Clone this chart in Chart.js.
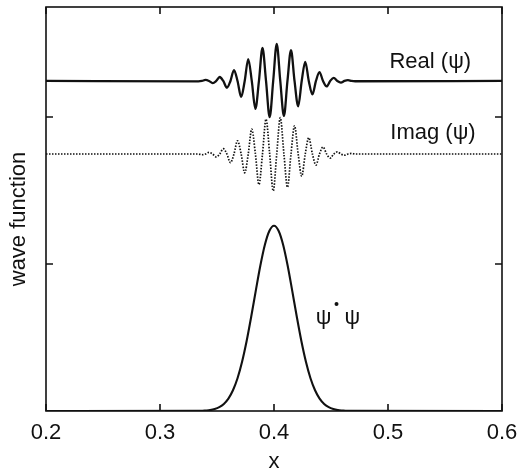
<!DOCTYPE html>
<html>
<head>
<meta charset="utf-8">
<script src="https://cdn.jsdelivr.net/npm/chart.js@4.4.1/dist/chart.umd.min.js"></script>
<style>
  html, body { margin: 0; padding: 0; background: #fff; }
  #wrap { width: 518px; height: 472px; }
</style>
</head>
<body>
<div id="wrap"><canvas id="wave-chart" width="518" height="472"></canvas></div>
<script>
/* ---- data ---- */
var xTicks = [0.2, 0.3, 0.4, 0.5, 0.6];
var yTicks = [1, 2];

// sample positions for Real / Imag (extrema and zero crossings)
var waveX = [0.2, 0.3337, 0.3368, 0.3399, 0.3430, 0.3462, 0.3493, 0.3524, 0.3555, 0.3587,
  0.3618, 0.3649, 0.3680, 0.3712, 0.3743, 0.3774, 0.3805, 0.3837, 0.3868, 0.3899, 0.3930,
  0.3962, 0.3993, 0.4024, 0.4055, 0.4087, 0.4118, 0.4149, 0.4180, 0.4212, 0.4243, 0.4274,
  0.4305, 0.4337, 0.4368, 0.4399, 0.4430, 0.4462, 0.4493, 0.4524, 0.4555, 0.4587, 0.4618,
  0.4649, 0.4680, 0.4712, 0.6];

var realY = [2.245, 2.242, 2.245, 2.252, 2.245, 2.230, 2.245, 2.272, 2.245, 2.199,
  2.245, 2.319, 2.245, 2.136, 2.245, 2.394, 2.245, 2.055, 2.245, 2.469, 2.245,
  1.999, 2.245, 2.497, 2.245, 2.007, 2.245, 2.455, 2.245, 2.073, 2.245, 2.375,
  2.245, 2.153, 2.245, 2.305, 2.245, 2.208, 2.245, 2.266, 2.245, 2.234, 2.245,
  2.250, 2.245, 2.243, 2.245];

var imagY = [1.748, 1.748, 1.743, 1.748, 1.759, 1.748, 1.728, 1.748, 1.784, 1.748,
  1.689, 1.748, 1.838, 1.748, 1.620, 1.748, 1.918, 1.748, 1.540, 1.748, 1.985,
  1.748, 1.497, 1.748, 1.995, 1.748, 1.522, 1.748, 1.940, 1.748, 1.597, 1.748,
  1.859, 1.748, 1.673, 1.748, 1.796, 1.748, 1.720, 1.748, 1.763, 1.748, 1.740,
  1.748, 1.752, 1.748, 1.748];

var densX = [0.2, 0.336, 0.340, 0.344, 0.348, 0.352, 0.356, 0.360, 0.364, 0.368, 0.372,
  0.376, 0.380, 0.384, 0.388, 0.392, 0.396, 0.400, 0.404, 0.408, 0.412, 0.416,
  0.420, 0.424, 0.428, 0.432, 0.436, 0.440, 0.444, 0.448, 0.452, 0.456, 0.460,
  0.464, 0.6];

var densY = [0, 0.001, 0.003, 0.006, 0.013, 0.026, 0.048, 0.084, 0.141, 0.223, 0.335,
  0.476, 0.641, 0.817, 0.988, 1.131, 1.226, 1.26, 1.226, 1.131, 0.988, 0.817,
  0.641, 0.476, 0.335, 0.223, 0.141, 0.084, 0.048, 0.026, 0.013, 0.006, 0.003,
  0.001, 0];

// curve labels, anchored in data units
var curveLabels = [
  { text: 'Real (\u03c8)', x: 0.5013, y: 2.374 },
  { text: 'Imag (\u03c8)', x: 0.502, y: 1.891 }
];

(function() {
  var ink = '#111';
  var font = "'Liberation Sans', Arial, Helvetica, sans-serif";

  function pts(xs, ys) {
    return xs.map(function(x, i) { return { x: x, y: ys[i] }; });
  }

  /* ---- frame, inward ticks and in-plot labels ---- */
  var framePlugin = {
    id: 'frame',
    afterDatasetsDraw: function(chart) {
      var ctx = chart.ctx, a = chart.chartArea;
      var xs = chart.scales.x, ys = chart.scales.y;
      ctx.save();
      ctx.strokeStyle = ink;
      ctx.lineWidth = 1.6;
      ctx.strokeRect(a.left, a.top, a.right - a.left, a.bottom - a.top);

      ctx.beginPath();
      xTicks.forEach(function(v) {
        var px = xs.getPixelForValue(v);
        ctx.moveTo(px, a.bottom); ctx.lineTo(px, a.bottom - 7);
        ctx.moveTo(px, a.top); ctx.lineTo(px, a.top + 7);
      });
      yTicks.forEach(function(v) {
        var py = ys.getPixelForValue(v);
        ctx.moveTo(a.left, py); ctx.lineTo(a.left + 7, py);
        ctx.moveTo(a.right, py); ctx.lineTo(a.right - 7, py);
      });
      ctx.stroke();

      ctx.fillStyle = ink;
      ctx.font = '22px ' + font;
      ctx.textBaseline = 'middle';
      ctx.textAlign = 'left';
      curveLabels.forEach(function(l) {
        ctx.fillText(l.text, xs.getPixelForValue(l.x), ys.getPixelForValue(l.y));
      });

      // psi* psi
      var px = xs.getPixelForValue(0.4367), py = ys.getPixelForValue(0.633);
      ctx.fillText('\u03c8', px, py);
      var w = ctx.measureText('\u03c8').width;
      ctx.beginPath();
      ctx.arc(px + w + 5, py - 14, 2, 0, Math.PI * 2);
      ctx.fill();
      ctx.fillText('\u03c8', px + w + 13, py);

      // y axis title
      ctx.save();
      ctx.translate(19, 219);
      ctx.rotate(-Math.PI / 2);
      ctx.textAlign = 'center';
      ctx.font = '22px ' + font;
      ctx.fillText('wave function', 0, 0);
      ctx.restore();

      ctx.restore();
    }
  };

  new Chart(document.getElementById('wave-chart'), {
    type: 'line',
    data: {
      datasets: [{
        label: 'Real',
        data: pts(waveX, realY),
        borderColor: ink,
        borderWidth: 2.3,
        pointRadius: 0,
        cubicInterpolationMode: 'monotone',
        fill: false
      }, {
        label: 'Imag',
        data: pts(waveX, imagY),
        borderColor: ink,
        borderWidth: 1.7,
        borderDash: [1.5, 1.5],
        pointRadius: 0,
        cubicInterpolationMode: 'monotone',
        fill: false
      }, {
        label: 'psi*psi',
        data: pts(densX, densY),
        borderColor: ink,
        borderWidth: 2.1,
        pointRadius: 0,
        cubicInterpolationMode: 'monotone',
        fill: false
      }]
    },
    options: {
      responsive: false,
      animation: false,
      layout: { padding: { top: 7, right: 16, left: 0, bottom: 0 } },
      plugins: {
        legend: { display: false },
        tooltip: { enabled: false }
      },
      scales: {
        x: {
          type: 'linear',
          min: 0.2,
          max: 0.6,
          afterFit: function(s) {
            s.height = 61;
            s.paddingLeft = 0;
            s.paddingRight = 0;
          },
          afterBuildTicks: function(s) {
            s.ticks = xTicks.map(function(v) { return { value: v }; });
          },
          ticks: {
            color: ink,
            padding: 9,
            maxRotation: 0,
            font: { family: font, size: 22 },
            callback: function(v) { return v.toFixed(1); }
          },
          grid: { display: false, drawTicks: false },
          border: { display: false },
          title: {
            display: true, text: 'x',
            color: ink,
            padding: { top: 0, bottom: -3 },
            font: { family: font, size: 22 }
          }
        },
        y: {
          min: 0,
          max: 2.748,
          afterFit: function(s) { s.width = 46; },
          ticks: { display: false },
          grid: { display: false, drawTicks: false },
          border: { display: false }
        }
      }
    },
    plugins: [framePlugin]
  });
})();
</script>
</body>
</html>
